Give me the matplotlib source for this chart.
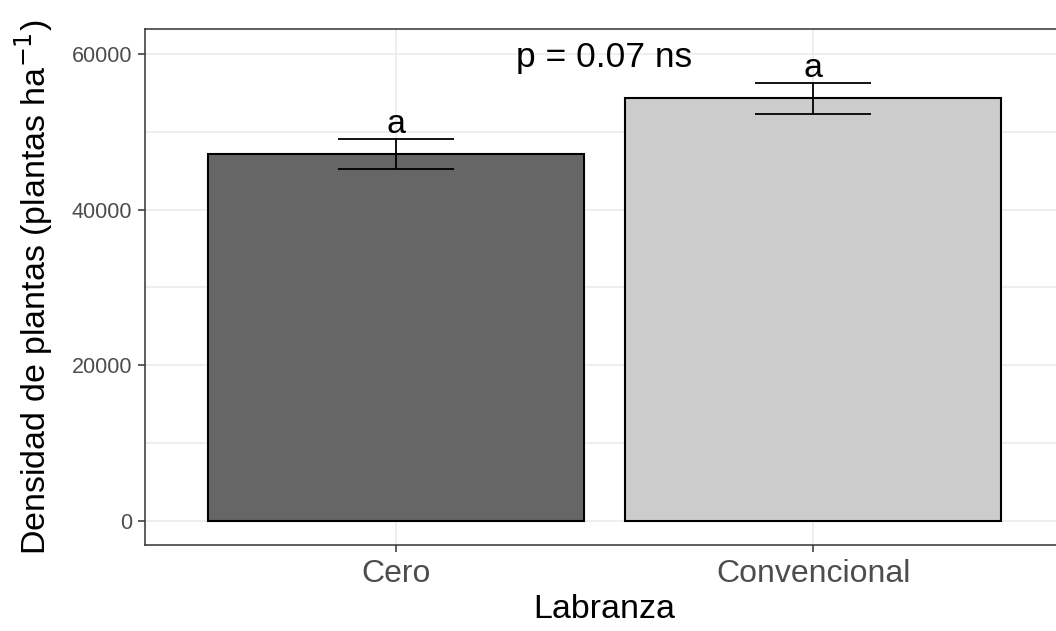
import numpy as np
import matplotlib.pyplot as plt

plt.rcParams['font.family'] = ['Liberation Sans', 'DejaVu Sans']

labranza = ['Cero', 'Convencional']
densidad = [47150, 54300]
error = [1900, 2030]
letras = ['a', 'a']
colores = ['#666666', '#CCCCCC']
yticks = [0, 20000, 40000, 60000]

fig = plt.figure(figsize=(10.56, 6.31), dpi=100)
ax = fig.add_axes([145 / 1056, 86 / 631, 919 / 1056, 516 / 631])

x = np.arange(1, len(labranza) + 1)
ax.bar(x, densidad, width=0.9, color=colores, edgecolor='black', linewidth=1.5, zorder=3)
ax.errorbar(x, densidad, yerr=error, fmt='none', ecolor='black', elinewidth=1.3,
            capsize=42, capthick=1.3, zorder=4)
for xi, m, e, l in zip(x, densidad, error, letras):
    ax.text(xi, m + e + 770, l, ha='center', va='baseline', fontsize=24.5, color='black', zorder=5)

ax.text(1.5, 59600, 'p = 0.07 ns', ha='center', va='center', fontsize=25.5, color='black')

ax.set_xlim(0.4, 2.6)
ax.set_ylim(-3084, 63210)
ax.set_xticks(x)
ax.set_xticklabels(labranza)
ax.set_yticks(yticks)
ax.set_yticks([10000, 30000, 50000], minor=True)
ax.grid(True, which='both', color='#EBEBEB', linewidth=1.2, zorder=0)
ax.set_axisbelow(True)

ax.tick_params(axis='x', labelsize=23, colors='#333333', labelcolor='#4D4D4D', length=5, width=1.1, pad=5)
ax.tick_params(axis='y', labelsize=15.5, colors='#333333', labelcolor='#4D4D4D', length=5, width=1.1, pad=4)
ax.tick_params(axis='y', which='minor', length=0)

for s in ax.spines.values():
    s.set_color('#333333')
    s.set_linewidth(1.1)

ax.set_xlabel('Labranza', fontsize=24.5, labelpad=4)
ax.set_ylabel('Densidad de plantas (plantas ha$^{-1}$)', fontsize=24.5, labelpad=12)

fig.savefig('out.png', dpi=100)
